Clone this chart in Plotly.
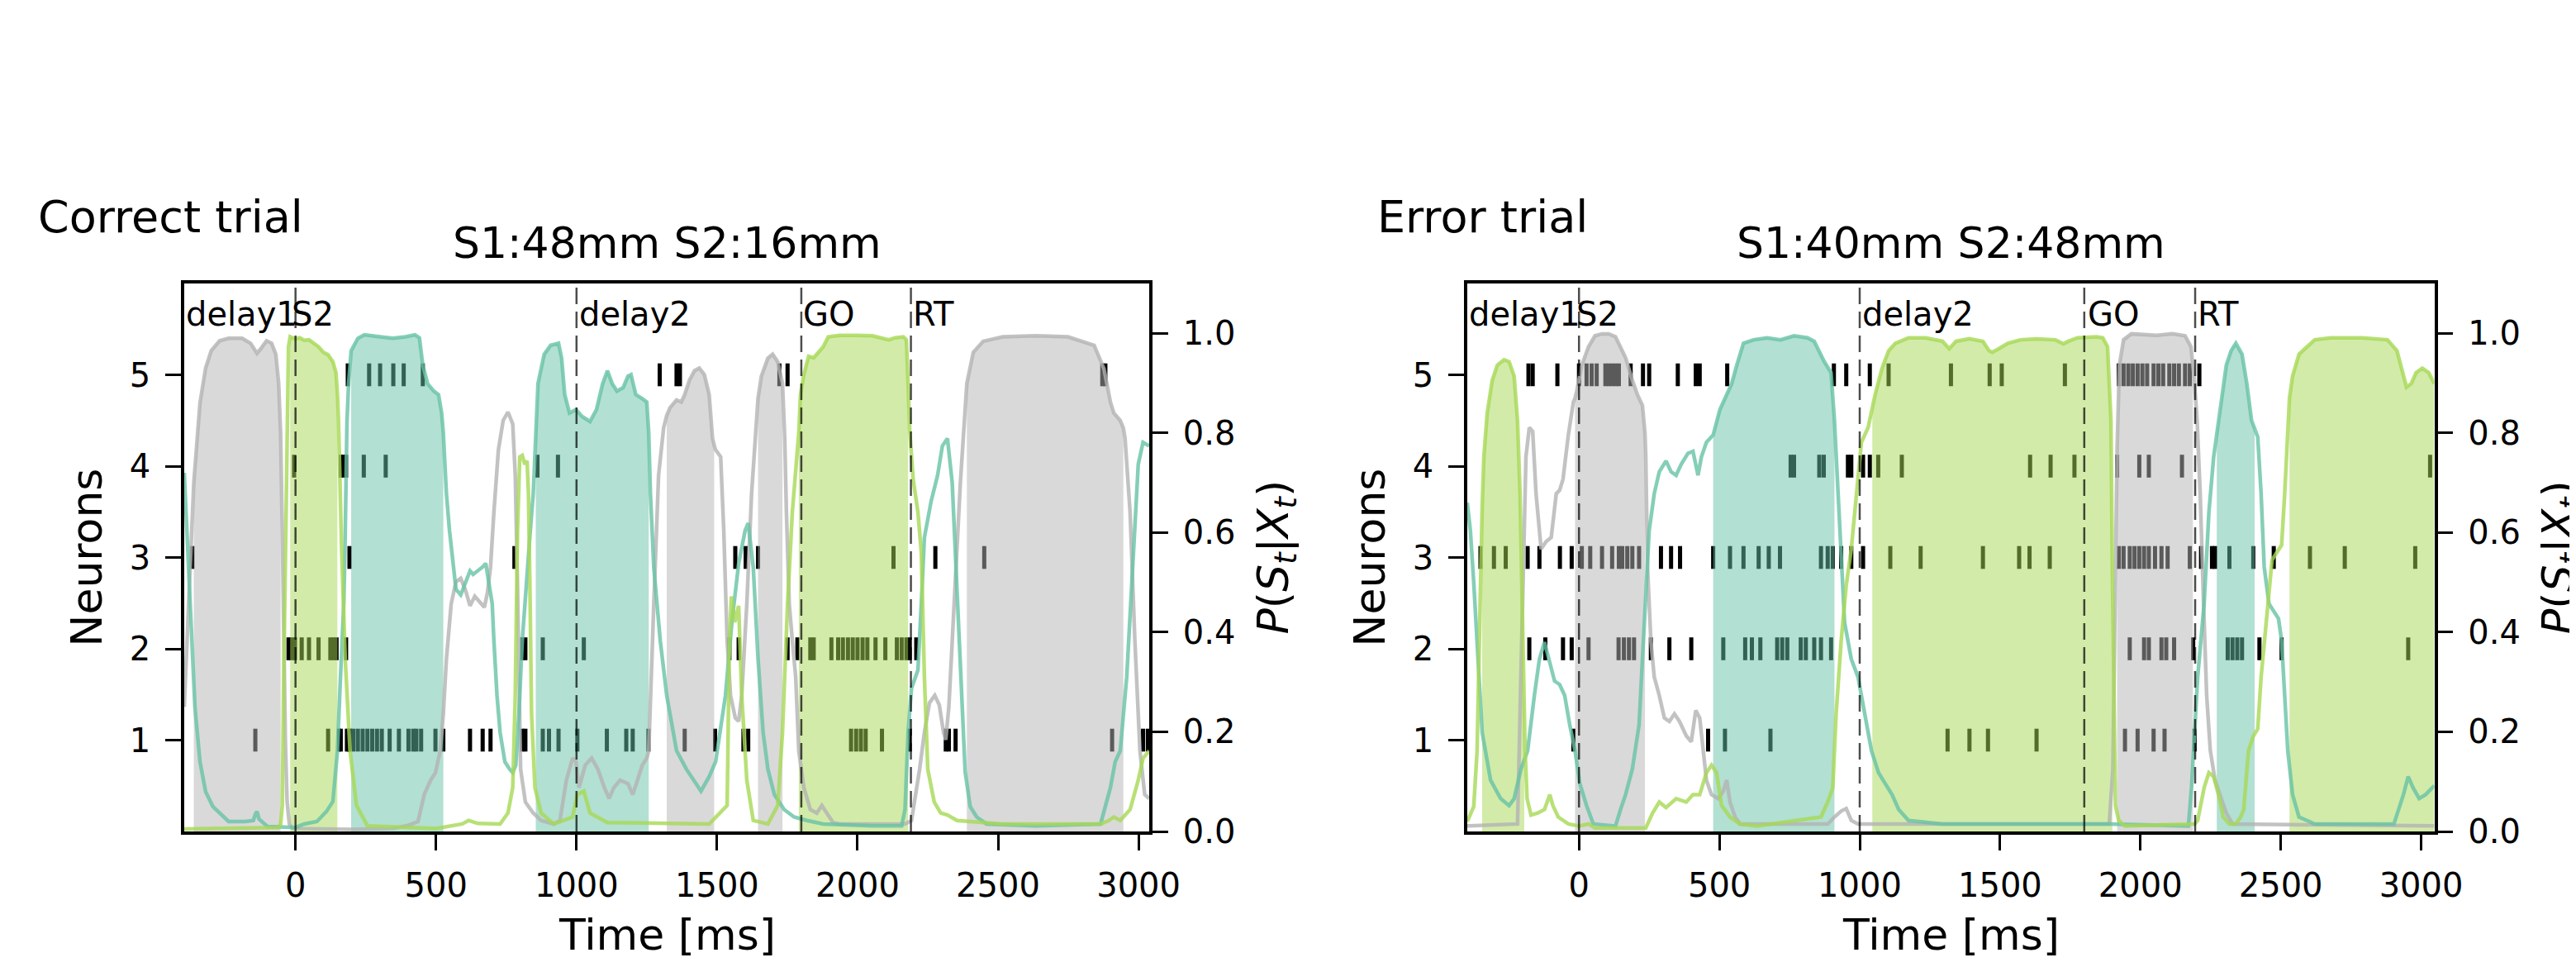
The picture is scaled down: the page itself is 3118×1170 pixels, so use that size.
import plotly.graph_objects as go

W, H = 3118, 1170
FONT = "DejaVu Sans"
OFF = 8  # page offset of the figure inside the browser window

# ---------------- colours (Set2) ----------------
C_TEAL = (102, 194, 165)
C_GREEN = (166, 216, 84)
C_GRAY = (179, 179, 179)

# ---------------- ticks ----------------
TICKS_X = [0, 500, 1000, 1500, 2000, 2500, 3000]
TICKS_N = [1, 2, 3, 4, 5]
TICKS_P = [0.0, 0.2, 0.4, 0.6, 0.8, 1.0]
TICKS_P_TEXT = ["0.0", "0.2", "0.4", "0.6", "0.8", "1.0"]

# ---------------- texts ----------------
PANEL_NAMES = ["Correct trial", "Error trial"]
PANEL_TITLES = ["S1:48mm S2:16mm", "S1:40mm S2:48mm"]
EVENT_NAMES = ["delay1", "S2", "delay2", "GO", "RT"]
L_EVENT_LINES = [0, 1000, 1800, 2190]
R_EVENT_LINES = [0, 1000, 1800, 2195]
L_LABEL_X = [-396, -20, 1003, 1800, 2192]
R_LABEL_X = [-398, -14, 1003, 1805, 2197]

# ================= LEFT PANEL (correct trial) =================
L_GRAY_T = [-396, -385, -372, -362, -340, -320, -300, -270, -238, -190, -160, -137, -125, -103, -85, -70, -60, -53, -47, -42, -36, -30, -22, -10, 200, 346, 400, 436, 458, 481, 498, 515, 526, 537, 554, 571, 588, 604, 621, 638, 655, 672, 683, 694, 706, 722, 739, 756, 773, 782, 790, 795, 801, 818, 846, 874, 919, 941, 964, 986, 998, 1009, 1031, 1054, 1076, 1099, 1116, 1133, 1155, 1183, 1200, 1217, 1234, 1250, 1257, 1275, 1292, 1310, 1321, 1333, 1356, 1373, 1385, 1402, 1420, 1437, 1455, 1472, 1484, 1490, 1495, 1513, 1524, 1536, 1548, 1565, 1577, 1588, 1606, 1623, 1640, 1646, 1658, 1681, 1698, 1716, 1733, 1741, 1747, 1757, 1768, 1780, 1791, 1809, 1832, 1855, 1873, 1890, 1913, 1936, 2169, 2192, 2203, 2221, 2238, 2256, 2275, 2291, 2306, 2314, 2325, 2337, 2349, 2366, 2389, 2412, 2447, 2517, 2633, 2749, 2842, 2877, 2900, 2912, 2935, 2946, 2952, 2970, 2987, 3005, 3022, 3038]
L_GRAY_P = [0.25, 0.40, 0.60, 0.70, 0.86, 0.93, 0.965, 0.985, 0.99, 0.99, 0.98, 0.96, 0.968, 0.985, 0.98, 0.958, 0.9, 0.8, 0.6, 0.38, 0.18, 0.06, 0.015, 0.006, 0.004, 0.006, 0.012, 0.02, 0.074, 0.103, 0.118, 0.162, 0.236, 0.346, 0.457, 0.501, 0.508, 0.486, 0.453, 0.472, 0.46, 0.45, 0.479, 0.531, 0.641, 0.766, 0.825, 0.842, 0.818, 0.715, 0.494, 0.273, 0.125, 0.059, 0.037, 0.022, 0.015, 0.022, 0.103, 0.147, 0.14, 0.088, 0.133, 0.147, 0.125, 0.088, 0.066, 0.088, 0.103, 0.096, 0.074, 0.103, 0.133, 0.147, 0.162, 0.457, 0.715, 0.81, 0.835, 0.851, 0.866, 0.862, 0.877, 0.906, 0.925, 0.93, 0.917, 0.877, 0.789, 0.775, 0.766, 0.752, 0.604, 0.383, 0.273, 0.228, 0.221, 0.273, 0.457, 0.678, 0.84, 0.87, 0.914, 0.95, 0.958, 0.943, 0.899, 0.789, 0.641, 0.457, 0.383, 0.31, 0.162, 0.088, 0.044, 0.037, 0.052, 0.037, 0.018, 0.015, 0.015, 0.022, 0.059, 0.125, 0.199, 0.258, 0.273, 0.254, 0.199, 0.184, 0.25, 0.38, 0.5, 0.7, 0.899, 0.962, 0.984, 0.993, 0.995, 0.993, 0.976, 0.929, 0.862, 0.84, 0.825, 0.81, 0.789, 0.641, 0.383, 0.162, 0.074, 0.066]

L_TEAL_T = [-396, -385, -372, -358, -340, -320, -294, -238, -180, -150, -143, -137, -130, -100, 0, 31, 76, 110, 133, 149, 160, 172, 177, 183, 189, 198, 222, 245, 301, 346, 391, 425, 441, 453, 470, 492, 509, 520, 526, 537, 548, 560, 571, 588, 604, 621, 632, 649, 666, 677, 689, 700, 706, 717, 728, 745, 762, 773, 784, 795, 807, 824, 835, 846, 855, 863, 885, 908, 936, 947, 958, 975, 998, 1020, 1048, 1071, 1093, 1110, 1127, 1144, 1166, 1183, 1194, 1211, 1234, 1250, 1257, 1263, 1275, 1298, 1321, 1356, 1391, 1443, 1472, 1495, 1530, 1553, 1577, 1600, 1611, 1629, 1646, 1664, 1681, 1704, 1739, 1774, 1820, 1878, 2053, 2157, 2169, 2180, 2192, 2215, 2227, 2238, 2262, 2285, 2302, 2320, 2337, 2349, 2360, 2372, 2383, 2401, 2424, 2459, 2633, 2865, 2900, 2917, 2935, 2958, 2981, 2999, 3016, 3038]
L_TEAL_P = [0.72, 0.58, 0.40, 0.25, 0.14, 0.08, 0.05, 0.02, 0.02, 0.022, 0.035, 0.04, 0.025, 0.01, 0.008, 0.015, 0.02, 0.04, 0.06, 0.16, 0.31, 0.46, 0.6, 0.82, 0.9, 0.965, 0.99, 0.997, 0.993, 0.99, 0.993, 0.997, 0.991, 0.936, 0.899, 0.884, 0.877, 0.84, 0.8, 0.678, 0.604, 0.538, 0.486, 0.475, 0.5, 0.523, 0.516, 0.523, 0.531, 0.538, 0.494, 0.457, 0.383, 0.273, 0.199, 0.14, 0.125, 0.118, 0.133, 0.236, 0.383, 0.531, 0.6, 0.678, 0.8, 0.899, 0.958, 0.976, 0.98, 0.95, 0.877, 0.84, 0.847, 0.833, 0.823, 0.847, 0.899, 0.925, 0.899, 0.884, 0.891, 0.914, 0.917, 0.877, 0.869, 0.862, 0.8, 0.678, 0.53, 0.383, 0.273, 0.162, 0.125, 0.081, 0.11, 0.14, 0.273, 0.42, 0.538, 0.604, 0.619, 0.53, 0.346, 0.199, 0.125, 0.074, 0.044, 0.029, 0.022, 0.015, 0.011, 0.011, 0.044, 0.199, 0.287, 0.324, 0.457, 0.59, 0.663, 0.715, 0.774, 0.789, 0.70, 0.55, 0.4, 0.25, 0.12, 0.05, 0.029, 0.015, 0.011, 0.015, 0.088, 0.14, 0.162, 0.31, 0.567, 0.737, 0.781, 0.774]

L_GREEN_T = [-396, -60, -53, -47, -42, -36, -30, -25, -19, -2, 15, 31, 48, 65, 82, 99, 116, 133, 144, 149, 153, 164, 177, 194, 217, 256, 500, 593, 616, 627, 649, 728, 756, 773, 782, 790, 798, 807, 816, 824, 829, 835, 840, 852, 874, 919, 986, 1003, 1026, 1048, 1110, 1472, 1536, 1544, 1551, 1563, 1577, 1588, 1606, 1629, 1681, 1716, 1733, 1751, 1768, 1786, 1791, 1797, 1809, 1826, 1844, 1861, 1878, 1896, 1936, 1995, 2053, 2111, 2134, 2163, 2174, 2180, 2186, 2198, 2215, 2227, 2238, 2250, 2273, 2296, 2320, 2354, 2517, 2865, 2894, 2912, 2935, 2970, 2999, 3016, 3038]
L_GREEN_P = [0.005, 0.008, 0.015, 0.052, 0.31, 0.531, 0.825, 0.973, 0.993, 0.989, 0.991, 0.986, 0.987, 0.98, 0.973, 0.962, 0.957, 0.943, 0.921, 0.88, 0.825, 0.567, 0.346, 0.162, 0.052, 0.011, 0.006, 0.015, 0.022, 0.02, 0.016, 0.015, 0.037, 0.088, 0.273, 0.604, 0.752, 0.755, 0.737, 0.744, 0.678, 0.457, 0.236, 0.088, 0.037, 0.015, 0.029, 0.074, 0.081, 0.037, 0.018, 0.015, 0.052, 0.383, 0.472, 0.42, 0.453, 0.273, 0.103, 0.022, 0.015, 0.052, 0.199, 0.457, 0.641, 0.766, 0.8, 0.877, 0.917, 0.954, 0.951, 0.962, 0.973, 0.993, 0.996, 0.996, 0.995, 0.987, 0.991, 0.993, 0.987, 0.899, 0.803, 0.707, 0.641, 0.56, 0.31, 0.125, 0.059, 0.037, 0.033, 0.022, 0.015, 0.015, 0.022, 0.029, 0.022, 0.044, 0.103, 0.147, 0.162]

# segments where each state is shaded (start, end) in ms
L_GRAY_SEG = [(-362, -53), (1321, 1490), (1646, 1733), (2389, 2946)]
L_TEAL_SEG = [(198, 526), (855, 1257)]
L_GREEN_SEG = [(-19, 149), (1791, 2180)]

# spikes (ms) per neuron
L_N1 = [-143, 116, 155, 161, 183, 189, 194, 206, 222, 239, 256, 273, 290, 307, 335, 368, 402, 419, 430, 447, 498, 526, 621, 666, 694, 807, 818, 880, 902, 936, 1003, 1108, 1177, 1200, 1256, 1385, 1493, 1594, 1611, 1977, 1995, 2012, 2029, 2087, 2186, 2314, 2325, 2349, 2906, 3016, 3033]
L_N2 = [-25, -14, -2, 22, 48, 82, 124, 135, 146, 180, 807, 818, 880, 1026, 1544, 1577, 1751, 1786, 1832, 1844, 1907, 1931, 1948, 1966, 1983, 2000, 2018, 2035, 2064, 2099, 2140, 2157, 2174, 2186, 2209]
L_N3 = [-367, 192, 779, 1565, 1602, 1646, 2128, 2277, 2451]
L_N4 = [-5, 161, 170, 180, 243, 321, 861, 934]
L_N5 = [186, 262, 301, 348, 385, 453, 1296, 1356, 1368, 1722, 1751, 2871, 2882]

# ================= RIGHT PANEL (error trial) =================
R_GRAY_T = [-398, -219, -207, -197, -189, -177, -165, -153, -135, -117, -99, -81, -69, -57, -38, -20, -14, -8, 10, 34, 57, 82, 106, 130, 148, 166, 190, 208, 226, 235, 238, 244, 256, 268, 286, 304, 322, 340, 358, 382, 400, 416, 430, 442, 454, 472, 496, 514, 526, 538, 556, 574, 886, 910, 934, 952, 970, 994, 1889, 1902, 1909, 1916, 1917, 1925, 1940, 1968, 2058, 2114, 2159, 2180, 2187, 2191, 2202, 2213, 2225, 2236, 2249, 2266, 2283, 2306, 2328, 3047]
R_GRAY_P = [0.011, 0.015, 0.31, 0.531, 0.752, 0.811, 0.803, 0.678, 0.567, 0.582, 0.59, 0.678, 0.685, 0.707, 0.796, 0.862, 0.87, 0.884, 0.936, 0.973, 0.995, 0.999, 0.999, 0.993, 0.973, 0.951, 0.906, 0.877, 0.855, 0.8, 0.752, 0.531, 0.383, 0.31, 0.273, 0.228, 0.221, 0.236, 0.221, 0.192, 0.18, 0.243, 0.228, 0.162, 0.103, 0.074, 0.066, 0.081, 0.103, 0.059, 0.029, 0.015, 0.015, 0.029, 0.041, 0.046, 0.022, 0.015, 0.015, 0.125, 0.457, 0.752, 0.77, 0.936, 0.987, 0.999, 0.996, 0.999, 0.995, 0.973, 0.94, 0.914, 0.825, 0.678, 0.457, 0.273, 0.162, 0.103, 0.074, 0.037, 0.015, 0.011]

R_TEAL_T = [-398, -387, -375, -363, -345, -315, -279, -249, -231, -207, -183, -159, -141, -123, -105, -87, -69, -51, -33, -14, 3, 27, 51, 130, 148, 166, 190, 214, 226, 238, 250, 268, 286, 310, 328, 346, 364, 388, 406, 424, 436, 454, 478, 502, 526, 544, 562, 586, 622, 670, 718, 766, 814, 838, 874, 898, 910, 922, 934, 946, 970, 994, 1018, 1042, 1067, 1091, 1115, 1139, 1174, 1295, 1497, 1889, 2171, 2182, 2193, 2204, 2227, 2244, 2261, 2272, 2283, 2306, 2323, 2340, 2362, 2379, 2396, 2407, 2418, 2430, 2441, 2458, 2475, 2492, 2503, 2514, 2525, 2542, 2565, 2621, 2903, 2937, 2954, 2971, 2993, 3016, 3047]
R_TEAL_P = [0.66, 0.604, 0.5, 0.383, 0.199, 0.103, 0.066, 0.052, 0.066, 0.125, 0.162, 0.273, 0.346, 0.38, 0.339, 0.302, 0.295, 0.273, 0.214, 0.162, 0.096, 0.052, 0.015, 0.011, 0.044, 0.074, 0.125, 0.214, 0.346, 0.494, 0.604, 0.678, 0.722, 0.744, 0.722, 0.715, 0.737, 0.759, 0.763, 0.715, 0.752, 0.781, 0.796, 0.847, 0.877, 0.899, 0.936, 0.98, 0.987, 0.991, 0.987, 0.995, 0.991, 0.984, 0.943, 0.921, 0.825, 0.678, 0.531, 0.42, 0.346, 0.31, 0.236, 0.162, 0.118, 0.096, 0.074, 0.044, 0.022, 0.015, 0.015, 0.015, 0.011, 0.088, 0.199, 0.31, 0.457, 0.641, 0.752, 0.8, 0.84, 0.936, 0.965, 0.98, 0.958, 0.899, 0.825, 0.81, 0.792, 0.678, 0.531, 0.457, 0.442, 0.427, 0.383, 0.273, 0.162, 0.074, 0.029, 0.015, 0.015, 0.074, 0.11, 0.088, 0.066, 0.074, 0.092]

R_GREEN_T = [-398, -375, -363, -351, -345, -339, -327, -309, -291, -267, -249, -231, -219, -210, -204, -198, -195, -192, -185, -171, -147, -123, -104, -93, -74, -38, 0, 34, 57, 238, 262, 286, 310, 346, 382, 406, 430, 454, 472, 490, 508, 538, 574, 634, 862, 886, 904, 916, 934, 952, 970, 988, 1006, 1030, 1045, 1055, 1079, 1103, 1127, 1174, 1235, 1295, 1319, 1343, 1391, 1439, 1461, 1472, 1495, 1528, 1573, 1630, 1697, 1726, 1743, 1776, 1844, 1866, 1883, 1895, 1900, 1906, 1911, 1923, 1945, 2193, 2204, 2227, 2244, 2261, 2278, 2295, 2317, 2340, 2357, 2368, 2385, 2402, 2418, 2430, 2447, 2458, 2469, 2486, 2503, 2514, 2525, 2531, 2542, 2565, 2621, 2678, 2790, 2880, 2914, 2948, 2965, 2982, 3004, 3027, 3047]
R_GREEN_P = [0.02, 0.05, 0.162, 0.531, 0.65, 0.752, 0.84, 0.906, 0.936, 0.947, 0.943, 0.914, 0.825, 0.678, 0.494, 0.31, 0.24, 0.162, 0.066, 0.033, 0.037, 0.044, 0.074, 0.052, 0.029, 0.015, 0.011, 0.015, 0.007, 0.007, 0.037, 0.059, 0.048, 0.066, 0.059, 0.074, 0.074, 0.118, 0.133, 0.118, 0.052, 0.029, 0.015, 0.011, 0.029, 0.059, 0.088, 0.236, 0.383, 0.494, 0.567, 0.678, 0.781, 0.811, 0.85, 0.877, 0.929, 0.965, 0.98, 0.991, 0.991, 0.984, 0.969, 0.984, 0.989, 0.984, 0.965, 0.962, 0.969, 0.98, 0.987, 0.989, 0.987, 0.979, 0.984, 0.991, 0.993, 0.991, 0.973, 0.825, 0.531, 0.236, 0.052, 0.022, 0.011, 0.015, 0.022, 0.088, 0.118, 0.11, 0.074, 0.029, 0.015, 0.015, 0.029, 0.044, 0.162, 0.191, 0.206, 0.31, 0.42, 0.494, 0.545, 0.56, 0.575, 0.678, 0.825, 0.87, 0.914, 0.958, 0.987, 0.991, 0.991, 0.987, 0.965, 0.892, 0.899, 0.921, 0.93, 0.921, 0.899]

R_GRAY_SEG = [(-14, 235), (1917, 2187)]
R_TEAL_SEG = [(478, 910), (2272, 2407)]
R_GREEN_SEG = [(-345, -195), (1045, 1900), (2531, 3047)]

R_N1 = [-20, 460, 520, 682, 1313, 1391, 1457, 1630, 1945, 1990, 2047, 2086, 2193]
R_N2 = [-177, -120, -57, -26, 34, 141, 160, 178, 196, 256, 322, 400, 514, 592, 616, 646, 706, 724, 742, 790, 808, 838, 862, 898, 1962, 2013, 2030, 2075, 2092, 2120, 2188, 2311, 2328, 2345, 2362, 2424, 2503, 2954]
R_N3 = [-351, -303, -261, -183, -141, -68, -26, 10, 40, 82, 118, 142, 154, 172, 190, 214, 292, 328, 360, 478, 538, 586, 640, 676, 716, 862, 886, 904, 934, 970, 1012, 1109, 1217, 1439, 1568, 1605, 1677, 1923, 1940, 1962, 1979, 1996, 2013, 2030, 2052, 2075, 2097, 2176, 2216, 2255, 2266, 2317, 2402, 2475, 2604, 2728, 2979]
R_N4 = [754, 766, 856, 872, 958, 970, 1012, 1036, 1066, 1150, 1607, 1680, 1765, 1917, 1996, 2030, 2148, 3032]
R_N5 = [-180, -165, -77, 0, 27, 45, 63, 94, 106, 118, 130, 142, 184, 228, 250, 352, 416, 430, 528, 908, 952, 1036, 1103, 1325, 1463, 1506, 1731, 1923, 1940, 1957, 1973, 1990, 2007, 2024, 2047, 2064, 2081, 2103, 2120, 2137, 2159, 2176, 2210]

# ---------------- layout geometry (target pixels in the photographed window) ----------------
L_XPIX = (223, 1391)
R_XPIX = (1776, 2946.5)
Y_TOP, Y_BOT = 343, 1006
L_XRANGE = [-396, 3038]
R_XRANGE = [-398, 3047]
SPIKE_HALF = 0.125


def rgba(c, a):
    return "rgba(%d,%d,%d,%s)" % (c[0], c[1], c[2], a)


def px(x):
    return (x - OFF) / W


def py(y):
    return 1 - (y - OFF) / H


fig = go.Figure()


def spikes_trace(rows, xa, ya):
    xs, ys = [], []
    for i, row in enumerate(rows):
        n = i + 1
        for t in row:
            xs += [t, t, None]
            ys += [n - SPIKE_HALF, n + SPIKE_HALF, None]
    return go.Scatter(x=xs, y=ys, mode="lines", line=dict(color="black", width=5),
                      xaxis=xa, yaxis=ya, showlegend=False, hoverinfo="skip")


def fill_trace(T, P, segs, col, xa, ya):
    xs, ys = [], []
    for a, b in segs:
        seg_t = [t for t in T if a <= t <= b]
        seg_p = [p for t, p in zip(T, P) if a <= t <= b]
        xs += [a] + seg_t + [b, None]
        ys += [0] + seg_p + [0, None]
    return go.Scatter(x=xs, y=ys, mode="none", fill="toself", fillcolor=rgba(col, 0.5),
                      xaxis=xa, yaxis=ya, showlegend=False, hoverinfo="skip")


def line_trace(T, P, col, xa, ya):
    return go.Scatter(x=T, y=P, mode="lines", line=dict(color=rgba(col, 0.8), width=4.5),
                      xaxis=xa, yaxis=ya, showlegend=False, hoverinfo="skip")


panels = [
    dict(xa="x", ya="y", yp="y2",
         rows=[L_N1, L_N2, L_N3, L_N4, L_N5],
         curves=[(L_GRAY_T, L_GRAY_P, L_GRAY_SEG, C_GRAY),
                 (L_TEAL_T, L_TEAL_P, L_TEAL_SEG, C_TEAL),
                 (L_GREEN_T, L_GREEN_P, L_GREEN_SEG, C_GREEN)],
         events=L_EVENT_LINES, labx=L_LABEL_X, xpix=L_XPIX, xr=L_XRANGE),
    dict(xa="x2", ya="y3", yp="y4",
         rows=[R_N1, R_N2, R_N3, R_N4, R_N5],
         curves=[(R_GRAY_T, R_GRAY_P, R_GRAY_SEG, C_GRAY),
                 (R_TEAL_T, R_TEAL_P, R_TEAL_SEG, C_TEAL),
                 (R_GREEN_T, R_GREEN_P, R_GREEN_SEG, C_GREEN)],
         events=R_EVENT_LINES, labx=R_LABEL_X, xpix=R_XPIX, xr=R_XRANGE),
]

annotations = []
shapes = []
axis_common = dict(showgrid=False, zeroline=False, showline=True, linecolor="black",
                   linewidth=3.5, ticks="outside", ticklen=19, tickwidth=3,
                   tickcolor="black", automargin=False,
                   tickfont=dict(family=FONT, size=40, color="black"))

layout_axes = {}
for k, pn in enumerate(panels):
    fig.add_trace(spikes_trace(pn["rows"], pn["xa"], pn["ya"]))
    for T, P, segs, col in pn["curves"]:
        fig.add_trace(fill_trace(T, P, segs, col, pn["xa"], pn["yp"]))
    for T, P, segs, col in pn["curves"]:
        fig.add_trace(line_trace(T, P, col, pn["xa"], pn["yp"]))

    xname = "xaxis" if k == 0 else "xaxis2"
    yname = "yaxis" if k == 0 else "yaxis3"
    ypname = "yaxis2" if k == 0 else "yaxis4"
    layout_axes[xname] = dict(axis_common, domain=[px(pn["xpix"][0]), px(pn["xpix"][1])],
                              range=pn["xr"], tickvals=TICKS_X, mirror=True,
                              anchor=pn["ya"], ticklabelstandoff=8)
    layout_axes[yname] = dict(axis_common, domain=[py(Y_BOT), py(Y_TOP)], range=[0, 6],
                              tickvals=TICKS_N, anchor=pn["xa"], ticklabelstandoff=10)
    layout_axes[ypname] = dict(axis_common, range=[0, 1.1], tickvals=TICKS_P,
                               ticktext=TICKS_P_TEXT, overlaying=pn["ya"], side="right",
                               anchor=pn["xa"], ticklabelstandoff=10)

    for ev in pn["events"]:
        shapes.append(dict(type="line", xref=pn["xa"], yref=pn["ya"] + " domain",
                           x0=ev, x1=ev, y0=0, y1=1, layer="above",
                           line=dict(color="rgba(0,0,0,0.7)", width=2.5, dash="20px,9px")))
    for name, lx in zip(EVENT_NAMES, pn["labx"]):
        annotations.append(dict(text=name, x=lx, y=5.668, xref=pn["xa"], yref=pn["ya"],
                                xanchor="left", yanchor="middle", showarrow=False,
                                font=dict(family=FONT, size=40, color="black")))

    xc = (pn["xpix"][0] + pn["xpix"][1]) / 2
    annotations.append(dict(text=PANEL_TITLES[k], x=px(xc), y=py(294), xref="paper",
                            yref="paper", xanchor="center", yanchor="middle",
                            showarrow=False, font=dict(family=FONT, size=52, color="black")))
    annotations.append(dict(text="Time [ms]", x=px(xc), y=py(1131), xref="paper",
                            yref="paper", xanchor="center", yanchor="middle",
                            showarrow=False, font=dict(family=FONT, size=52, color="black")))
    annotations.append(dict(text="Neurons", x=px(pn["xpix"][0] - 119), y=py((Y_TOP + Y_BOT) / 2),
                            xref="paper", yref="paper", xanchor="center", yanchor="middle",
                            textangle=-90, showarrow=False,
                            font=dict(family=FONT, size=52, color="black")))
    annotations.append(dict(text="<i>P</i>(<i>S</i><sub><i>t</i></sub>|<i>X</i><sub><i>t</i></sub>)",
                            x=px(pn["xpix"][1] + 153), y=py((Y_TOP + Y_BOT) / 2),
                            xref="paper", yref="paper", xanchor="center", yanchor="middle",
                            textangle=-90, showarrow=False,
                            font=dict(family=FONT, size=52, color="black")))

annotations.append(dict(text=PANEL_NAMES[0], x=px(44), y=py(262), xref="paper", yref="paper",
                        xanchor="left", yanchor="middle", showarrow=False,
                        font=dict(family=FONT, size=54, color="black")))
annotations.append(dict(text=PANEL_NAMES[1], x=px(1665), y=py(262), xref="paper", yref="paper",
                        xanchor="left", yanchor="middle", showarrow=False,
                        font=dict(family=FONT, size=54, color="black")))

fig.update_layout(width=W, height=H, margin=dict(l=0, r=0, t=0, b=0),
                  paper_bgcolor="white", plot_bgcolor="white",
                  font=dict(family=FONT, color="black"),
                  annotations=annotations, shapes=shapes, showlegend=False,
                  **layout_axes)

fig.write_html("out.html")
